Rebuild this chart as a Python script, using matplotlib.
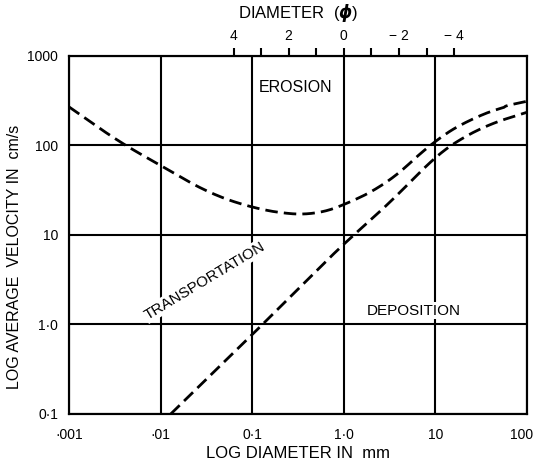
import numpy as np
import matplotlib
matplotlib.use('Agg')
import matplotlib.pyplot as plt
import matplotlib.transforms as mtransforms
from matplotlib.ticker import NullLocator, FixedLocator

plt.rcParams['font.family'] = ['Liberation Sans', 'DejaVu Sans']

# erosion curve (upper): grain diameter in mm, velocity in cm/s
erosion_d = [0.001, 0.0036, 0.01, 0.032, 0.1, 0.28, 0.47, 1.0, 1.5, 3.0, 9.7, 24.6, 62, 100]
erosion_v = [270, 108, 60, 30, 20, 16.8, 16.8, 21, 26.7, 37, 114, 201, 281, 312]

# deposition curve (lower)
depo_d = [0.0129, 0.1, 1.0, 1.29, 3.0, 10, 16, 38, 100]
depo_v = [0.1, 0.77, 8.0, 10, 21.7, 75, 108, 172, 235]

xticks = [0.001, 0.01, 0.1, 1.0, 10, 100]
xlabels = ['\u00b7001', '\u00b701', '0\u00b71', '1\u00b70', '10', '100']
yticks = [0.1, 1.0, 10, 100, 1000]
ylabels = ['0\u00b71', '1\u00b70', '10', '100', '1000']

phi_major = [4, 2, 0, -2, -4]
phi_major_labels = ['4', '2', '0', '\u2212 2', '\u2212 4']
phi_minor = [3, 1, -1, -3]

fig = plt.figure(figsize=(5.35, 4.69), dpi=100)
ax = fig.add_axes([0.129, 0.1173, 0.856, 0.7633])

ax.set_xscale('log')
ax.set_yscale('log')
ax.set_xlim(0.001, 100)
ax.set_ylim(0.1, 1000)

ax.xaxis.set_major_locator(FixedLocator(xticks))
ax.xaxis.set_minor_locator(NullLocator())
ax.yaxis.set_major_locator(FixedLocator(yticks))
ax.yaxis.set_minor_locator(NullLocator())
ax.set_xticklabels(xlabels)
ax.set_yticklabels(ylabels)
ax.tick_params(axis='x', length=0, labelsize=10, pad=10)
ax.tick_params(axis='y', length=0, labelsize=10, pad=8)
ax.grid(True, color='black', linewidth=1.5)
for s in ax.spines.values():
    s.set_linewidth(1.5)

# pull the last x label in a little so it stays on the page
last = ax.get_xticklabels()[-1]
last.set_transform(last.get_transform() + mtransforms.ScaledTranslation(-5 / 100, 0, fig.dpi_scale_trans))

# smooth the read points in log space
def smooth(d, v, n=300):
    ld = np.log10(d)
    lv = np.log10(v)
    xs = np.linspace(ld[0], ld[-1], n)
    ys = np.interp(xs, ld, lv)
    k = 15
    pad = np.concatenate([np.full(k, ys[0]), ys, np.full(k, ys[-1])])
    ker = np.ones(2 * k + 1) / (2 * k + 1)
    sm = np.convolve(pad, ker, mode='valid')
    sm[:k] = ys[:k]
    sm[-k:] = ys[-k:]
    return 10 ** xs, 10 ** sm

ex, ey = smooth(erosion_d, erosion_v)
dx, dy = smooth(depo_d, depo_v)
l1, = ax.plot(ex, ey, color='black', lw=2.0)
l2, = ax.plot(dx, dy, color='black', lw=2.0)
for l in (l1, l2):
    l.set_dashes([4.5, 2.2])

# region labels sit on white so the grid breaks around them
box = dict(facecolor='white', edgecolor='none', pad=1.0)
ax.text(0.30, 450, 'EROSION', fontsize=11.5, ha='center', va='center', bbox=box)
ax.text(0.0306, 3.1, 'TRANSPORTATION', fontsize=11, ha='center', va='center', rotation=31, bbox=box)
ax.text(5.75, 1.42, 'DEPOSITION', fontsize=11, ha='center', va='center', bbox=box)

ax.set_xlabel('LOG DIAMETER IN  mm', fontsize=12, labelpad=3)
ax.set_ylabel('LOG AVERAGE  VELOCITY IN  cm/s', fontsize=11.5)
ax.yaxis.set_label_coords(-0.102, 0.44)

# phi scale on top
top = ax.twiny()
top.set_xscale('log')
top.set_xlim(0.001, 100)
top.xaxis.set_major_locator(FixedLocator([2.0 ** -p for p in phi_major]))
top.xaxis.set_minor_locator(FixedLocator([2.0 ** -p for p in phi_minor]))
top.set_xticklabels(phi_major_labels)
top.xaxis.set_minor_formatter(plt.NullFormatter())
top.tick_params(axis='x', which='both', direction='out', length=6, width=1.5, labelsize=10, pad=3)
top.set_xlabel('DIAMETER  ($\\boldsymbol{\\phi}$)', fontsize=12, labelpad=8)
for s in top.spines.values():
    s.set_linewidth(1.5)

fig.savefig('out.png', dpi=100)
